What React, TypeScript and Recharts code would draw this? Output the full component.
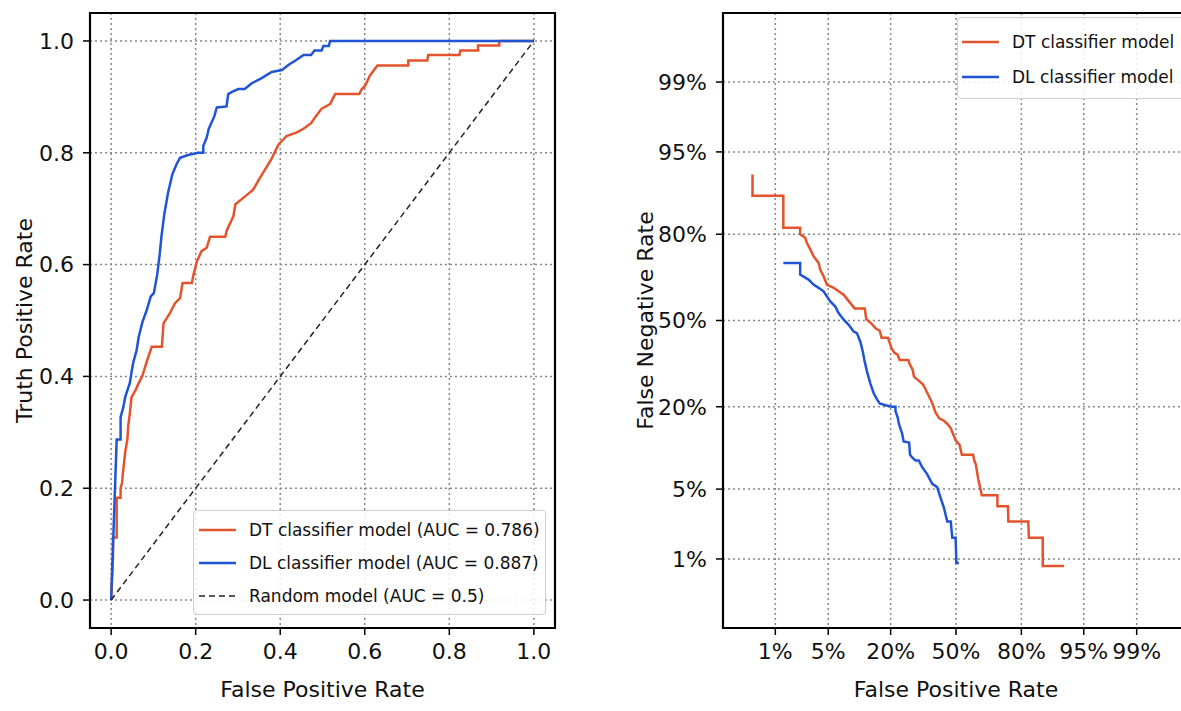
import React from 'react'
import { LineChart, Line, XAxis, YAxis, CartesianGrid, ReferenceArea, Legend } from 'recharts'

const FONT = 'DejaVu Sans'
const RED = '#e4532b'
const BLUE = '#1f55d4'

// ROC corner points (refined with the DET panel)
const dtFpr = [0, 0.0044, 0.0044, 0.0131, 0.0131, 0.0224, 0.0224, 0.0261, 0.0274, 0.0303, 0.0333, 0.0384, 0.0402, 0.0441, 0.0482, 0.0575, 0.0653, 0.074, 0.084, 0.096, 0.12, 0.124, 0.139, 0.151, 0.163, 0.169, 0.191, 0.194, 0.203, 0.214, 0.226, 0.234, 0.27, 0.274, 0.289, 0.294, 0.317, 0.336, 0.352, 0.364, 0.38, 0.396, 0.415, 0.438, 0.455, 0.473, 0.485, 0.498, 0.518, 0.53, 0.587, 0.593, 0.601, 0.612, 0.63, 0.703, 0.703, 0.748, 0.75, 0.824, 0.826, 0.868, 0.868, 0.918, 0.918, 1]
const dtTpr = [0, 0.077, 0.112, 0.112, 0.183, 0.183, 0.2, 0.21, 0.224, 0.244, 0.265, 0.287, 0.31, 0.333, 0.363, 0.375, 0.388, 0.401, 0.426, 0.453, 0.453, 0.495, 0.513, 0.531, 0.54, 0.567, 0.567, 0.579, 0.606, 0.624, 0.63, 0.65, 0.65, 0.662, 0.686, 0.708, 0.722, 0.734, 0.755, 0.77, 0.79, 0.815, 0.83, 0.836, 0.843, 0.853, 0.866, 0.879, 0.887, 0.905, 0.905, 0.914, 0.92, 0.938, 0.956, 0.956, 0.965, 0.965, 0.975, 0.975, 0.983, 0.983, 0.9917, 0.9917, 1, 1]

const dlFpr = [0, 0.0131, 0.0224, 0.0224, 0.0288, 0.0333, 0.0384, 0.0441, 0.0482, 0.0527, 0.0601, 0.0653, 0.074, 0.0835, 0.0938, 0.101, 0.109, 0.115, 0.119, 0.126, 0.135, 0.145, 0.155, 0.163, 0.182, 0.205, 0.218, 0.218, 0.226, 0.231, 0.244, 0.25, 0.273, 0.277, 0.286, 0.301, 0.316, 0.332, 0.355, 0.38, 0.404, 0.421, 0.438, 0.455, 0.473, 0.481, 0.498, 0.502, 0.515, 0.518, 1]
const dlTpr = [0, 0.287, 0.287, 0.327, 0.345, 0.363, 0.375, 0.388, 0.407, 0.426, 0.446, 0.471, 0.497, 0.517, 0.543, 0.549, 0.582, 0.619, 0.65, 0.691, 0.73, 0.762, 0.78, 0.791, 0.796, 0.8, 0.8, 0.812, 0.827, 0.843, 0.865, 0.881, 0.883, 0.905, 0.909, 0.914, 0.914, 0.924, 0.933, 0.9445, 0.948, 0.958, 0.966, 0.975, 0.975, 0.983, 0.983, 0.991, 0.991, 1, 1]

const randomFpr = [0, 1]
const randomTpr = [0, 1]

const rocTicks = [0, 0.2, 0.4, 0.6, 0.8, 1.0]
const detTickRates = [0.01, 0.05, 0.2, 0.5, 0.8, 0.95, 0.99]
const detTickLabels = ['1%', '5%', '20%', '50%', '80%', '95%', '99%']

const rocNames = ['DT classifier model (AUC = 0.786)', 'DL classifier model (AUC = 0.887)', 'Random model (AUC = 0.5)']
const detNames = ['DT classifier model', 'DL classifier model']

// inverse normal CDF (Acklam) for the normal-deviate axes
function probit(p: number) {
  const a = [-39.69683028665376, 220.9460984245205, -275.9285104469687, 138.357751867269, -30.66479806614716, 2.506628277459239]
  const b = [-54.47609879822406, 161.5858368580409, -155.6989798598866, 66.80131188771972, -13.28068155288572]
  const c = [-0.007784894002430293, -0.3223964580411365, -2.400758277161838, -2.549732539343734, 4.374664141464968, 2.938163982698783]
  const d = [0.007784695709041462, 0.3224671290700398, 2.445134137142996, 3.754408661907416]
  const plow = 0.02425
  if (p < plow) {
    const q = Math.sqrt(-2 * Math.log(p))
    return (((((c[0] * q + c[1]) * q + c[2]) * q + c[3]) * q + c[4]) * q + c[5]) / ((((d[0] * q + d[1]) * q + d[2]) * q + d[3]) * q + 1)
  }
  if (p <= 1 - plow) {
    const q = p - 0.5
    const r = q * q
    return ((((((a[0] * r + a[1]) * r + a[2]) * r + a[3]) * r + a[4]) * r + a[5]) * q) / (((((b[0] * r + b[1]) * r + b[2]) * r + b[3]) * r + b[4]) * r + 1)
  }
  const q = Math.sqrt(-2 * Math.log(1 - p))
  return -(((((c[0] * q + c[1]) * q + c[2]) * q + c[3]) * q + c[4]) * q + c[5]) / ((((d[0] * q + d[1]) * q + d[2]) * q + d[3]) * q + 1)
}

const toRoc = (fpr: number[], tpr: number[]) => fpr.map((x, i) => ({ x, y: tpr[i] }))
// DET = FPR vs FNR on probit axes; drop points that would sit at +-infinity
const toDet = (fpr: number[], tpr: number[]) =>
  fpr
    .map((x, i) => ({ fpr: x, fnr: 1 - tpr[i] }))
    .filter((p) => p.fpr > 0 && p.fnr > 0)
    .map((p) => ({ x: probit(p.fpr), y: probit(p.fnr) }))

const detTicks = detTickRates.map(probit)
const detLabel = (v: number) => {
  let best = 0
  detTicks.forEach((t, i) => {
    if (Math.abs(t - v) < Math.abs(detTicks[best] - v)) best = i
  })
  return detTickLabels[best]
}

const tickStyle = { fill: '#111', fontSize: 22, fontFamily: FONT }
const labelStyle = { fill: '#111', fontSize: 22, fontFamily: FONT }
const gridProps = { stroke: '#888', strokeWidth: 1.5, strokeDasharray: '2 3' }

function LegendBox({ payload, order, rowHeight, padding }: any) {
  // keep the series order instead of recharts' alphabetical sort
  const items = [...(payload || [])].sort((a: any, b: any) => order.indexOf(a.value) - order.indexOf(b.value))
  return (
    <div
      style={{
        boxSizing: 'border-box',
        width: '100%',
        height: '100%',
        border: '1px solid #cfcfcf',
        borderRadius: 4,
        background: 'rgba(255,255,255,0.85)',
        padding,
        fontFamily: FONT,
        fontSize: 17,
        color: '#111',
      }}
    >
      {items.map((entry: any) => (
        <div key={entry.value} style={{ display: 'flex', alignItems: 'center', height: rowHeight }}>
          <svg width={37} height={10} style={{ flex: 'none' }}>
            <line x1={0} y1={5} x2={37} y2={5} stroke={entry.color} strokeWidth={entry.payload?.strokeDasharray ? 1.5 : 2.5} strokeDasharray={entry.payload?.strokeDasharray} />
          </svg>
          <span style={{ marginLeft: 13, whiteSpace: 'nowrap' }}>{entry.value}</span>
        </div>
      ))}
    </div>
  )
}

function RocChart() {
  return (
    <LineChart width={600} height={711} margin={{ top: 13, right: 45, bottom: 10, left: 0 }}>
      <CartesianGrid {...gridProps} />
      <XAxis
        type="number"
        dataKey="x"
        domain={[-0.05, 1.05]}
        allowDataOverflow
        ticks={rocTicks}
        tickFormatter={(v: number) => v.toFixed(1)}
        tick={tickStyle}
        tickSize={7}
        tickMargin={8}
        tickLine={{ stroke: '#000', strokeWidth: 1.5 }}
        axisLine={false}
        height={73}
        label={{ value: 'False Positive Rate', position: 'insideBottom', offset: 4, style: labelStyle }}
      />
      <YAxis
        type="number"
        domain={[-0.05, 1.05]}
        allowDataOverflow
        ticks={rocTicks}
        tickFormatter={(v: number) => v.toFixed(1)}
        tick={tickStyle}
        tickSize={7}
        tickMargin={9}
        tickLine={{ stroke: '#000', strokeWidth: 1.5 }}
        axisLine={false}
        width={90}
        label={{ value: 'Truth Positive Rate', angle: -90, position: 'insideLeft', offset: 24, style: { ...labelStyle, textAnchor: 'middle' } }}
      />
      <Line data={toRoc(dtFpr, dtTpr)} dataKey="y" name={rocNames[0]} stroke={RED} strokeWidth={2.5} dot={false} type="linear" isAnimationActive={false} />
      <Line data={toRoc(dlFpr, dlTpr)} dataKey="y" name={rocNames[1]} stroke={BLUE} strokeWidth={2.5} dot={false} type="linear" isAnimationActive={false} />
      <Line data={toRoc(randomFpr, randomTpr)} dataKey="y" name={rocNames[2]} stroke="#222" strokeWidth={1.5} strokeDasharray="6 4" dot={false} type="linear" isAnimationActive={false} />
      <ReferenceArea x1={-0.05} x2={1.05} y1={-0.05} y2={1.05} fill="none" fillOpacity={0} stroke="#000" strokeWidth={2.2} />
      <Legend
        verticalAlign="middle"
        layout="horizontal"
        wrapperStyle={{ position: 'absolute', left: 193, top: 510, width: 353, height: 105 }}
        content={(props: any) => <LegendBox payload={props.payload} order={rocNames} rowHeight={33} padding="2px 0 0 5px" />}
      />
    </LineChart>
  )
}

function DetChart() {
  return (
    <LineChart width={600} height={711} margin={{ top: 13, right: 11, bottom: 10, left: 0 }}>
      <CartesianGrid {...gridProps} />
      <XAxis
        type="number"
        dataKey="x"
        domain={[-3, 3]}
        allowDataOverflow
        ticks={detTicks}
        tickFormatter={detLabel}
        tick={tickStyle}
        tickSize={7}
        tickMargin={8}
        tickLine={{ stroke: '#000', strokeWidth: 1.5 }}
        axisLine={false}
        height={73}
        label={{ value: 'False Positive Rate', position: 'insideBottom', offset: 4, style: labelStyle }}
      />
      <YAxis
        type="number"
        domain={[-3, 3]}
        allowDataOverflow
        ticks={detTicks}
        tickFormatter={detLabel}
        tick={tickStyle}
        tickSize={7}
        tickMargin={9}
        tickLine={{ stroke: '#000', strokeWidth: 1.5 }}
        axisLine={false}
        width={123}
        label={{ value: 'False Negative Rate', angle: -90, position: 'insideLeft', offset: 45, style: { ...labelStyle, textAnchor: 'middle' } }}
      />
      <Line data={toDet(dtFpr, dtTpr)} dataKey="y" name={detNames[0]} stroke={RED} strokeWidth={2.5} dot={false} type="linear" isAnimationActive={false} />
      <Line data={toDet(dlFpr, dlTpr)} dataKey="y" name={detNames[1]} stroke={BLUE} strokeWidth={2.5} dot={false} type="linear" isAnimationActive={false} />
      <ReferenceArea x1={-3} x2={3} y1={-3} y2={3} fill="none" fillOpacity={0} stroke="#000" strokeWidth={2.2} />
      <Legend
        verticalAlign="middle"
        layout="horizontal"
        wrapperStyle={{ position: 'absolute', left: 357, top: 17, width: 240, height: 82 }}
        content={(props: any) => <LegendBox payload={props.payload} order={detNames} rowHeight={35} padding="6px 0 0 4px" />}
      />
    </LineChart>
  )
}

export default function App() {
  return (
    <div style={{ position: 'fixed', left: 0, top: 0, width: 1181, height: 711, overflow: 'hidden', background: '#fff', fontFamily: FONT }}>
      <div style={{ position: 'absolute', left: 0, top: 0 }}>
        <RocChart />
      </div>
      <div style={{ position: 'absolute', left: 600, top: 0 }}>
        <DetChart />
      </div>
    </div>
  )
}
